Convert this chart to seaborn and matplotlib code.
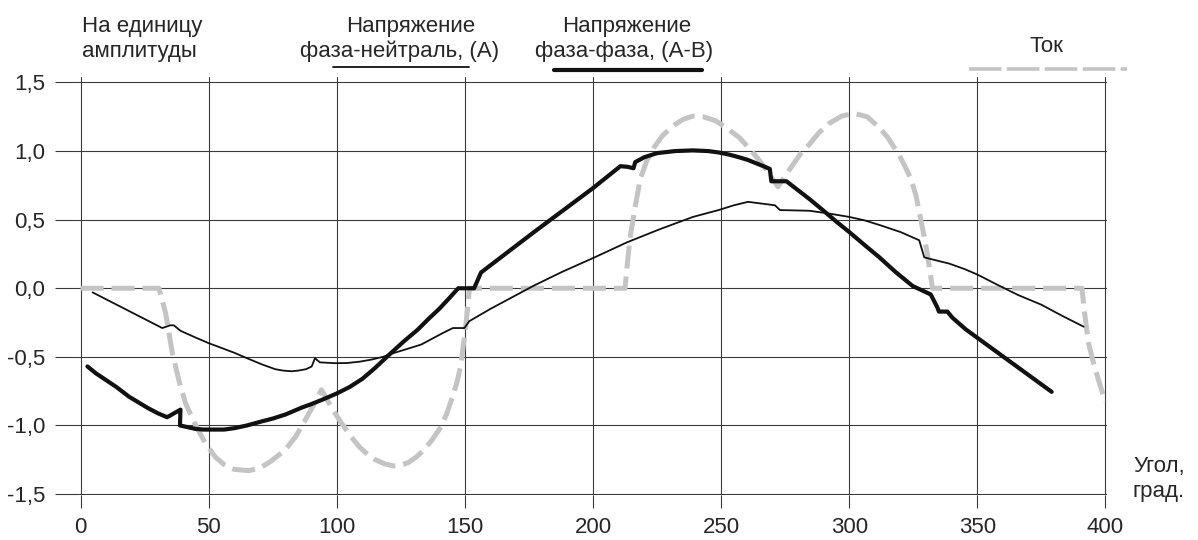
import pandas as pd
import seaborn as sns
import matplotlib
matplotlib.use("Agg")
import matplotlib.pyplot as plt
from matplotlib.lines import Line2D

# phase-neutral voltage (A)
pn_x = [4.7, 31.9, 35, 36.4, 39, 45, 50, 55, 60, 65, 70.8, 76, 79, 82.4, 85, 88, 90.2, 91.5,
        93.4, 99.2, 104, 109, 113.5, 118, 122.6, 127, 133, 137, 141, 145.3, 149.8, 151.7,
        160, 168, 177, 188, 200, 213.3, 226, 239, 249, 255, 260.5, 271, 273, 284.5, 292,
        300, 306, 312, 320, 327.3, 329.3, 332.5, 339, 345, 350, 358.4, 366, 375, 383, 391.5]
pn_y = [-0.03, -0.29, -0.27, -0.27, -0.31, -0.36, -0.40, -0.435, -0.47, -0.51, -0.555, -0.59,
        -0.60, -0.605, -0.60, -0.59, -0.57, -0.51, -0.54, -0.546, -0.545, -0.535, -0.52,
        -0.50, -0.47, -0.445, -0.41, -0.37, -0.33, -0.29, -0.29, -0.24, -0.15, -0.07, 0.02,
        0.12, 0.22, 0.335, 0.43, 0.52, 0.57, 0.605, 0.63, 0.605, 0.57, 0.565, 0.545, 0.52,
        0.495, 0.46, 0.41, 0.35, 0.225, 0.21, 0.18, 0.14, 0.10, 0.02, -0.05, -0.12, -0.20,
        -0.28]

# phase-phase voltage (A-B)
pp_x = [2.7, 6, 10, 14, 18.9, 22, 26, 30, 33.8, 39, 38.8, 44.8, 48, 52, 56, 60, 65, 70.8, 75,
        80, 86.3, 90, 94, 100, 105, 110, 115, 121, 126, 131.7, 136, 140, 144, 147.4, 153.6,
        156.3, 177, 200, 210.7, 213.5, 215.8, 216.5, 220, 225, 232, 239, 245, 249, 253, 257,
        260.5, 263.8, 266.5, 269, 269.6, 275.5, 284.5, 290, 295, 300, 306, 311.8, 318, 324.7,
        331.8, 334.4, 335, 338.3, 340.3, 345.5, 379]
pp_y = [-0.57, -0.62, -0.67, -0.72, -0.79, -0.825, -0.87, -0.91, -0.94, -0.885, -1.0, -1.025,
        -1.03, -1.03, -1.03, -1.02, -1.0, -0.97, -0.95, -0.92, -0.87, -0.845, -0.815, -0.767,
        -0.72, -0.66, -0.58, -0.475, -0.39, -0.30, -0.22, -0.15, -0.07, 0.0, 0.0, 0.115,
        0.41, 0.73, 0.89, 0.885, 0.875, 0.92, 0.955, 0.985, 1.0, 1.005, 1.0, 0.99, 0.975,
        0.955, 0.935, 0.91, 0.89, 0.87, 0.78, 0.78, 0.65, 0.565, 0.485, 0.41, 0.315, 0.225,
        0.12, 0.017, -0.045, -0.14, -0.17, -0.17, -0.215, -0.30, -0.755]

# current
cur_x = [0, 30.6, 33.2, 35.8, 38.5, 41, 45, 48.7, 52.6, 56, 60, 65.6, 70, 74, 79.8, 84, 88,
         91, 94, 98, 101, 105.7, 109, 112, 115, 118.7, 122, 125, 128, 131, 134, 137, 140.7,
         143, 145, 147, 148.5, 150.5, 151.8, 212.5, 213.5, 214.6, 216.5, 218.5, 221, 223.6,
         227, 231, 235, 239, 243, 248, 252, 257, 261, 265, 268.5, 272.2, 275, 278, 281,
         284.5, 288, 292, 297, 302, 307, 311.8, 315, 319.5, 322, 324, 326, 327.3, 329, 330.5,
         332.5, 390.8, 392, 393.4, 395, 396.5, 398.3, 399.9]
cur_y = [0, 0, -0.18, -0.47, -0.68, -0.84, -1.0, -1.13, -1.23, -1.285, -1.32, -1.33, -1.31,
         -1.265, -1.18, -1.08, -0.95, -0.85, -0.74, -0.87, -0.96, -1.085, -1.16, -1.21,
         -1.25, -1.28, -1.295, -1.29, -1.27, -1.23, -1.18, -1.11, -1.01, -0.91, -0.8, -0.68,
         -0.55, -0.25, 0, 0, 0.2, 0.385, 0.6, 0.8, 0.93, 1.02, 1.11, 1.18, 1.23, 1.255, 1.25,
         1.22, 1.17, 1.10, 1.02, 0.93, 0.84, 0.74, 0.82, 0.9, 0.98, 1.05, 1.13, 1.2, 1.255,
         1.275, 1.25, 1.17, 1.1, 0.97, 0.88, 0.8, 0.68, 0.56, 0.4, 0.25, 0, 0, -0.2, -0.40,
         -0.52, -0.62, -0.73, -0.83]

x_ticks = [0, 50, 100, 150, 200, 250, 300, 350, 400]
y_ticks = [-1.5, -1.0, -0.5, 0.0, 0.5, 1.0, 1.5]
y_labels = ["-1,5", "-1,0", "-0,5", "0,0", "0,5", "1,0", "1,5"]

sns.set_style("white")
plt.rcParams['font.family'] = ['Liberation Sans', 'DejaVu Sans']

W, H = 1198, 540
fig = plt.figure(figsize=(W / 100, H / 100), dpi=100)
ax = fig.add_axes([79 / W, 1 - 495 / H, (1107 - 79) / W, (495 - 77) / H])

grid_col = "#3a3a3a"
cur_col = "#c4c4c4"
thin_lw, thick_lw, cur_lw = 1.3, 3.0, 3.6
cur_ls = (0, (4.6, 1.6))

df_pn = pd.DataFrame({"angle": pn_x, "value": pn_y})
df_pp = pd.DataFrame({"angle": pp_x, "value": pp_y})
df_cur = pd.DataFrame({"angle": cur_x, "value": cur_y})

sns.lineplot(data=df_cur, x="angle", y="value", sort=False, estimator=None, ax=ax,
             color=cur_col, lw=cur_lw, linestyle=cur_ls, zorder=2)
sns.lineplot(data=df_pn, x="angle", y="value", sort=False, estimator=None, ax=ax,
             color="#111111", lw=thin_lw, zorder=3)
sns.lineplot(data=df_pp, x="angle", y="value", sort=False, estimator=None, ax=ax,
             color="#111111", lw=thick_lw, zorder=4)

ax.set_xlim(-0.6, 400.6)
ax.set_ylim(-1.507, 1.54)
ax.set_xticks(x_ticks)
ax.set_xticklabels([str(v) for v in x_ticks])
ax.set_yticks(y_ticks)
ax.set_yticklabels(y_labels)
ax.set_xlabel("")
ax.set_ylabel("")
for s in ax.spines.values():
    s.set_visible(False)
ax.set_axisbelow(True)
ax.grid(True, color=grid_col, lw=0.8)
ax.tick_params(axis="y", length=17.5, width=0.8, color=grid_col, pad=7, labelsize=16,
               left=True)
ax.tick_params(axis="x", length=9, width=0.8, color=grid_col, pad=7, labelsize=16,
               bottom=True)


def fy(py):
    return 1 - py / H


fs = 16
fig.text(82 / W, fy(31.7), "На единицу", fontsize=fs, va="baseline", ha="left")
fig.text(82 / W, fy(57), "амплитуды", fontsize=fs, va="baseline", ha="left")
fig.text(411 / W, fy(31.7), "Напряжение", fontsize=fs, va="baseline", ha="center")
fig.text(400 / W, fy(57), "фаза-нейтраль, (А)", fontsize=fs, va="baseline", ha="center")
fig.text(627 / W, fy(31.7), "Напряжение", fontsize=fs, va="baseline", ha="center")
fig.text(624 / W, fy(57), "фаза-фаза, (А-В)", fontsize=fs, va="baseline", ha="center")
fig.text(1046 / W, fy(52), "Ток", fontsize=fs, va="baseline", ha="center")
fig.text(1133 / W, fy(472), "Угол,", fontsize=fs, va="baseline", ha="left")
fig.text(1133 / W, fy(497), "град.", fontsize=fs, va="baseline", ha="left")

# legend samples under the labels
fig.add_artist(Line2D([333 / W, 469 / W], [fy(67), fy(67)], transform=fig.transFigure,
                      color="#111111", lw=thin_lw))
fig.add_artist(Line2D([554 / W, 702 / W], [fy(69.5), fy(69.5)], transform=fig.transFigure,
                      color="#111111", lw=thick_lw))
fig.add_artist(Line2D([969 / W, 1127 / W], [fy(68.5), fy(68.5)], transform=fig.transFigure,
                      color=cur_col, lw=2.6, linestyle=(0, (9, 1.5))))

fig.savefig("out.png", dpi=100)
